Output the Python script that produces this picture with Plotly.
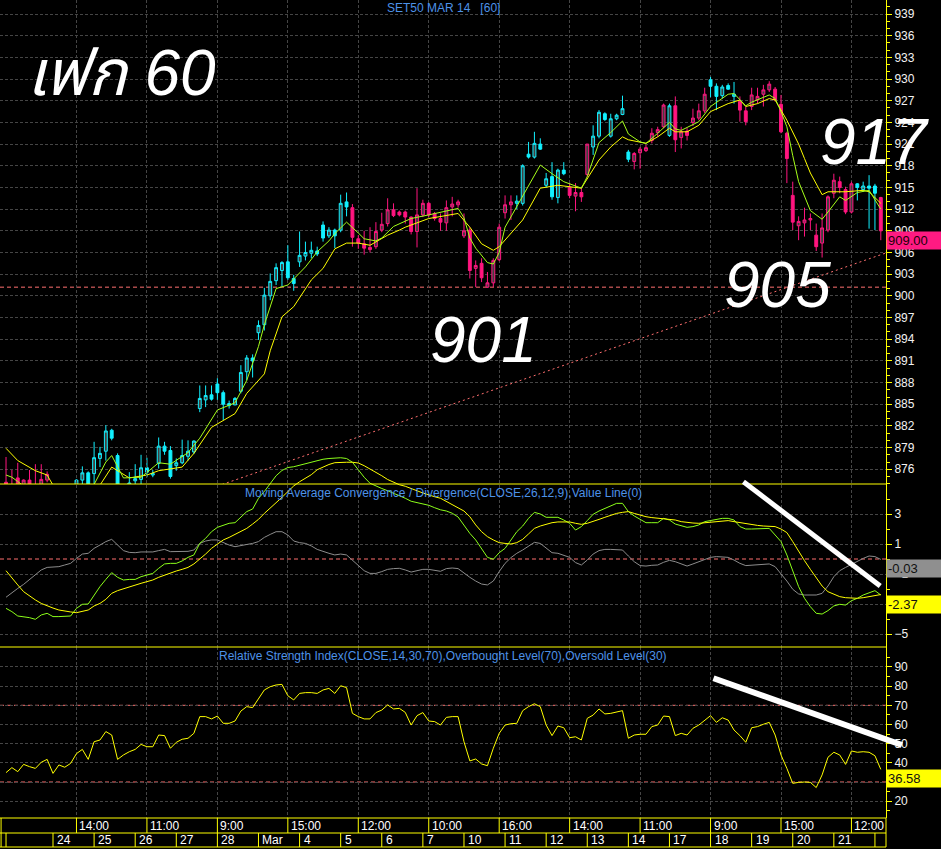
import plotly.graph_objects as go

# ---------------- data ----------------
# hourly bars (sessions 9,10,11,12,14,15,16 -> 7 bars per day), index 0..149
bar_open = [874.2, 873.6, 874.8, 873.5, 874.5, 873.8, 873.5, 874.5, 873.3, 872.6,
            872.2, 872.8, 873.5, 874.5, 875.5, 875.4, 877.5, 878.5, 881.4, 877.9,
            873.6, 873.6, 874.4, 874.6, 876.2, 875.2, 876.8, 879.2, 878.6, 876.5,
            876.9, 877.8, 878.4, 884.4, 885.6, 886.3, 887.8, 886.6, 884.8, 884.9,
            886.8, 889.5, 891.4, 894.9, 896.0, 900.0, 902.1, 903.5, 904.7, 902.4,
            904.7, 905.5, 905.9, 906.2, 909.8, 908.3, 909.1, 909.1, 913.0, 912.2,
            907.9, 907.2, 906.4, 906.8, 909.1, 910.0, 911.9, 911.6, 911.6, 910.9,
            908.9, 911.2, 912.8, 911.4, 910.7, 910.1, 912.3, 912.6, 908.3, 909.1,
            903.8, 904.5, 901.2, 901.8, 905.0, 911.5, 912.6, 912.8, 912.8, 919.6,
            919.2, 921.0, 915.3, 916.5, 913.6, 917.4, 915.0, 913.8, 914.3, 916.8,
            920.6, 922.1, 925.2, 922.1, 924.5, 925.1, 919.9, 918.6, 919.8, 920.1,
            921.5, 922.6, 923.4, 922.2, 926.3, 921.9, 922.8, 924.0, 924.6, 925.6,
            929.9, 929.0, 927.7, 929.1, 927.6, 926.9, 925.6, 926.2, 927.1, 927.9,
            928.5, 928.6, 926.5, 922.5, 913.9, 909.7, 910.1, 910.5, 908.4, 907.3,
            909.1, 914.2, 915.8, 914.7, 911.6, 915.5, 914.7, 915.2, 915.2, 913.6]
bar_high = [877.7, 875.9, 876.9, 874.6, 875.9, 876.7, 876.7, 875.7, 873.6, 873.2,
            873.4, 873.5, 874.6, 876.4, 875.7, 879.8, 879.1, 882.1, 881.6, 878.2,
            873.8, 875.6, 876.7, 878.0, 877.6, 875.9, 880.4, 879.8, 879.2, 877.5,
            880.1, 880.0, 880.0, 887.6, 887.6, 887.6, 888.6, 886.9, 885.5, 886.0,
            890.4, 891.8, 891.9, 896.6, 901.1, 903.1, 904.5, 904.8, 907.0, 902.9,
            908.9, 907.5, 907.5, 906.8, 910.3, 909.5, 909.3, 914.0, 914.3, 912.7,
            908.4, 909.0, 909.5, 910.2, 911.5, 913.5, 912.8, 911.8, 911.8, 911.0,
            914.9, 913.3, 913.0, 911.6, 911.4, 913.2, 913.7, 913.3, 911.4, 909.5,
            904.9, 905.2, 903.3, 905.2, 910.0, 913.9, 913.9, 913.9, 918.2, 921.3,
            922.7, 921.8, 917.0, 918.5, 917.6, 918.5, 915.6, 915.6, 915.1, 921.0,
            923.6, 925.7, 925.4, 925.2, 925.2, 927.7, 920.2, 919.9, 920.6, 920.9,
            923.2, 923.4, 926.6, 926.6, 927.6, 923.4, 923.2, 925.9, 926.6, 928.8,
            930.3, 929.4, 929.2, 929.4, 929.6, 927.6, 926.2, 928.8, 928.8, 929.2,
            929.7, 928.9, 927.8, 922.7, 915.8, 911.0, 912.2, 911.4, 910.0, 911.4,
            913.9, 916.9, 916.5, 915.1, 915.8, 915.6, 915.8, 916.7, 915.5, 913.7]
bar_low = [872.8, 872.5, 872.8, 873.0, 873.0, 872.8, 873.0, 874.2, 872.0, 871.8,
           871.9, 872.0, 873.0, 873.0, 873.2, 873.5, 876.3, 877.2, 880.0, 872.8,
           872.5, 873.2, 873.5, 873.6, 874.9, 874.9, 876.1, 878.0, 874.7, 875.8,
           876.7, 877.2, 878.1, 883.9, 884.6, 885.5, 885.6, 882.8, 884.4, 884.9,
           886.5, 888.3, 888.7, 893.9, 895.2, 899.4, 901.5, 901.3, 902.2, 900.7,
           904.0, 904.9, 905.2, 905.5, 907.5, 908.0, 906.6, 908.8, 911.0, 906.8,
           906.5, 905.7, 906.0, 906.5, 908.8, 909.6, 910.9, 911.0, 910.0, 908.5,
           906.7, 910.9, 910.9, 910.4, 909.0, 909.0, 911.0, 912.2, 908.0, 902.4,
           901.2, 901.9, 901.1, 901.2, 904.8, 910.7, 910.5, 912.0, 912.5, 919.0,
           919.0, 920.2, 915.0, 913.3, 912.8, 916.7, 913.5, 911.7, 913.0, 916.5,
           919.5, 921.8, 924.2, 921.9, 924.3, 925.0, 918.5, 917.5, 917.6, 919.9,
           921.1, 922.0, 923.2, 922.0, 919.9, 920.4, 921.5, 923.5, 924.3, 925.3,
           927.5, 925.7, 927.3, 928.5, 926.6, 924.1, 923.6, 925.7, 926.6, 926.2,
           928.2, 926.9, 922.5, 915.6, 909.1, 907.7, 908.2, 909.1, 906.2, 905.3,
           908.8, 913.5, 914.2, 911.3, 911.4, 913.2, 914.4, 909.3, 909.1, 907.7]
bar_close = [873.4, 873.0, 873.5, 874.5, 873.6, 873.3, 874.6, 875.3, 872.6, 872.2,
             872.8, 872.4, 874.5, 875.5, 873.5, 877.6, 878.2, 881.3, 880.3, 873.2,
             873.2, 874.1, 874.7, 876.2, 875.6, 875.4, 879.2, 878.5, 875.0, 876.9,
             877.9, 878.5, 879.9, 885.8, 886.2, 885.7, 886.6, 885.0, 885.1, 885.8,
             889.4, 891.4, 891.0, 895.9, 900.1, 902.0, 903.9, 904.6, 902.5, 901.7,
             905.6, 906.0, 906.3, 905.8, 908.0, 909.1, 908.3, 912.8, 912.3, 908.1,
             907.3, 906.6, 906.7, 908.9, 909.9, 911.9, 911.1, 911.2, 910.9, 908.9,
             911.2, 912.8, 911.2, 910.7, 910.2, 912.2, 912.7, 913.0, 909.0, 903.5,
             904.2, 902.5, 901.8, 904.9, 909.5, 912.6, 913.0, 913.1, 918.0, 919.2,
             921.1, 920.3, 916.2, 913.7, 917.4, 916.9, 913.9, 914.3, 913.7, 921.0,
             922.1, 925.4, 924.4, 924.5, 925.0, 925.9, 918.9, 919.7, 920.3, 920.5,
             922.5, 923.0, 926.4, 926.3, 921.6, 922.7, 922.2, 924.6, 925.6, 927.9,
             929.0, 927.6, 928.9, 928.6, 927.9, 925.7, 924.1, 927.8, 927.6, 928.5,
             929.3, 927.1, 922.7, 919.0, 910.2, 910.3, 910.5, 910.7, 906.8, 909.4,
             913.7, 916.0, 915.0, 911.6, 915.5, 915.0, 915.2, 914.9, 914.2, 909.0]
# c = cyan bar, p = pink bar
bar_colour = list("p" * 12 + "c" * 47 + "p" * 28 + "c" * 9 + "p" * 4 + "c" * 7 +
                  "p" * 6 + "c" + "p" * 6 + "c" * 5 + "p" * 20 + "c" * 4 + "p")

# moving averages (read at selected bars)
ma_fast_x = [0, 1, 2, 3, 5, 9, 13, 15, 17, 18, 20, 23, 26, 28, 31, 33, 36, 39, 41, 43,
             44, 46, 48, 51, 53, 55, 56, 58, 60, 61, 63, 64, 66, 68, 69, 72, 77, 78, 79, 80,
             82, 83, 84, 85, 88, 91, 93, 95, 98, 99, 101, 103, 105, 106, 108, 109, 111, 113, 114, 115,
             118, 120, 123, 124, 126, 127, 130, 131, 132, 133, 134, 135, 137, 139, 140, 142,
             143, 145, 147, 149]
ma_fast_y = [875.2, 874.9, 874.3, 873.7, 873.2, 872.5, 872.8, 873.9, 877.0, 877.9,
             874.8, 874.9, 876.9, 876.7, 878.3, 880.3, 884.2, 885.2, 888.3, 893.0,
             896.0, 901.0, 901.5, 904.0, 906.1, 907.6, 908.6, 910.2, 908.7, 907.9,
             907.6, 908.0, 909.6, 910.3, 910.7, 911.2, 912.1, 910.8, 908.0, 906.6,
             904.6, 904.4, 906.0, 909.5, 913.8, 918.1, 916.9, 915.8, 914.9, 916.5,
             921.2, 922.6, 924.2, 922.4, 921.3, 921.1, 922.5, 924.0, 923.1, 922.9,
             924.1, 926.2, 927.9, 928.0, 926.3, 926.8, 927.8, 927.3, 925.5, 923.4,
             919.4, 915.8, 911.8, 910.6, 911.6, 913.7, 913.2, 914.3, 914.6, 912.0]
ma_slow_x = [0, 2, 5, 7, 8, 10, 14, 16, 18, 21, 24, 26, 30, 32, 35, 39, 41, 44, 45, 47,
             49, 52, 54, 55, 56, 58, 60, 62, 63, 65, 67, 68, 70, 72, 77, 79, 81, 83, 84, 88,
             91, 94, 98, 101, 103, 105, 106, 109, 111, 113, 114, 116, 118, 120, 123, 125, 126, 128, 130, 131,
             133, 135, 136, 137, 139, 140, 143, 146, 147, 149]
ma_slow_y = [878.9, 877.2, 875.8, 875.2, 873.8, 872.8, 872.5, 873.8, 876.3, 874.8,
             875.2, 875.8, 876.3, 878.2, 881.8, 883.7, 886.5, 889.2, 892.4, 897.1,
             898.5, 902.2, 903.8, 905.2, 906.5, 907.3, 907.3, 907.0, 907.5, 908.4,
             909.1, 909.5, 910.1, 910.7, 911.4, 909.5, 907.2, 906.3, 906.8, 910.5,
             914.9, 915.3, 914.9, 918.8, 920.6, 922.0, 921.6, 921.1, 922.0, 923.2,
             922.7, 922.7, 923.6, 925.5, 926.6, 927.1, 926.2, 926.6, 927.3, 927.1,
             924.3, 921.0, 919.0, 917.0, 914.0, 914.4, 914.4, 914.6, 914.4, 912.8]

support_level = 901.2
trend_points = [(36, 873.66), (150, 905.97)]

macd_line = [-3.29, -3.51, -3.80, -3.84, -3.91, -4.02, -3.73, -3.62, -3.84, -3.84,
             -3.84, -3.80, -3.29, -3.02, -3.00, -2.40, -1.84, -1.36, -0.91, -1.22,
             -1.40, -1.36, -1.36, -1.18, -1.07, -0.96, -0.62, -0.33, -0.29, -0.29,
             -0.13, 0.11, 0.27, 1.04, 1.38, 1.82, 2.11, 2.27, 2.38, 2.42,
             2.82, 3.16, 3.33, 4.04, 4.50, 5.00, 5.55, 5.90, 6.10, 6.15,
             6.25, 6.40, 6.50, 6.60, 6.65, 6.70, 6.72, 6.75, 6.70, 6.45,
             5.95, 5.45, 5.05, 4.85, 4.70, 4.55, 4.40, 4.20, 4.05, 3.85,
             3.75, 3.68, 3.58, 3.42, 3.28, 3.20, 3.05, 2.80, 2.25, 1.71,
             1.27, 0.71, 0.11, -0.02, 0.42, 0.71, 1.31, 1.82, 2.20, 2.71,
             3.11, 3.00, 2.78, 2.78, 2.78, 2.60, 2.38, 1.93, 2.16, 2.56,
             2.98, 3.20, 3.38, 3.53, 3.71, 3.71, 3.16, 2.87, 2.64, 2.42,
             2.42, 2.42, 2.71, 2.60, 2.33, 2.20, 2.11, 2.16, 2.27, 2.49,
             2.56, 2.64, 2.71, 2.71, 2.60, 2.16, 2.00, 2.00, 2.00, 2.02,
             2.04, 1.60, 1.16, 0.27, -0.84, -1.84, -2.62, -3.18, -3.62, -3.67,
             -3.44, -3.13, -3.02, -3.07, -2.78, -2.62, -2.40, -2.24, -2.11, -2.40]
macd_signal = [-0.78, -1.29, -1.73, -2.18, -2.47, -2.73, -2.96, -3.13, -3.27, -3.40,
               -3.49, -3.53, -3.58, -3.51, -3.40, -3.13, -2.96, -2.69, -2.29, -2.11,
               -1.98, -1.84, -1.73, -1.62, -1.51, -1.40, -1.22, -1.07, -0.96, -0.80,
               -0.69, -0.56, -0.33, -0.02, 0.33, 0.71, 1.00, 1.27, 1.44, 1.64,
               1.82, 2.04, 2.33, 2.64, 3.04, 3.38, 3.76, 4.11, 4.49, 4.87,
               5.15, 5.38, 5.62, 5.95, 6.15, 6.30, 6.42, 6.45, 6.45, 6.45,
               6.40, 6.22, 6.00, 5.80, 5.55, 5.30, 5.10, 4.95, 4.85, 4.72,
               4.55, 4.40, 4.25, 4.15, 4.05, 3.85, 3.65, 3.45, 3.20, 2.82,
               2.27, 1.82, 1.49, 1.27, 1.09, 1.04, 1.00, 1.09, 1.31, 1.67,
               2.04, 2.20, 2.33, 2.42, 2.47, 2.49, 2.47, 2.38, 2.31, 2.38,
               2.49, 2.64, 2.78, 2.93, 3.04, 3.11, 3.16, 3.04, 2.91, 2.82,
               2.76, 2.71, 2.69, 2.64, 2.60, 2.49, 2.42, 2.40, 2.38, 2.42,
               2.49, 2.53, 2.56, 2.56, 2.49, 2.42, 2.33, 2.29, 2.24, 2.20,
               2.16, 2.16, 2.00, 1.76, 1.16, 0.49, -0.11, -0.69, -1.29, -1.80,
               -2.18, -2.33, -2.51, -2.58, -2.62, -2.62, -2.58, -2.51, -2.44, -2.37]
macd_value = [-2.55, -2.24, -1.96, -1.69, -1.36, -1.07, -0.73, -0.56, -0.51, -0.51,
              -0.40, -0.29, 0.04, 0.33, 0.38, 0.71, 0.93, 1.16, 1.31, 0.93,
              0.56, 0.44, 0.42, 0.47, 0.49, 0.47, 0.56, 0.64, 0.49, 0.49,
              0.49, 0.51, 0.60, 1.04, 1.20, 1.27, 1.27, 1.09, 0.93, 0.82,
              0.89, 0.98, 1.04, 1.16, 1.44, 1.64, 1.82, 1.82, 1.60, 1.20,
              1.09, 1.04, 0.87, 0.64, 0.49, 0.38, 0.27, 0.33, 0.27, -0.07,
              -0.47, -0.78, -0.96, -0.96, -0.84, -0.69, -0.64, -0.62, -0.73, -0.87,
              -0.78, -0.69, -0.69, -0.78, -0.82, -0.64, -0.60, -0.64, -0.96, -1.22,
              -1.47, -1.67, -1.73, -1.47, -0.84, -0.29, 0.09, 0.38, 0.60, 0.87,
              1.11, 1.04, 0.71, 0.42, 0.38, 0.27, 0.11, -0.24, -0.40, -0.07,
              0.33, 0.56, 0.64, 0.64, 0.64, 0.60, 0.20, -0.18, -0.44, -0.47,
              -0.42, -0.40, -0.22, -0.09, -0.18, -0.33, -0.47, -0.33, -0.18, -0.02,
              0.11, 0.16, 0.16, 0.11, -0.07, -0.29, -0.44, -0.40, -0.38, -0.33,
              -0.33, -0.51, -0.96, -1.47, -2.02, -2.33, -2.40, -2.40, -2.40, -2.29,
              -1.80, -1.18, -0.78, -0.56, -0.36, -0.13, 0.04, 0.20, 0.16, -0.03]
rsi = [34.9, 37.5, 35.4, 39.2, 38.0, 37.1, 40.3, 41.8, 34.5, 38.9,
       37.7, 39.7, 44.8, 47.0, 41.8, 51.0, 51.9, 56.3, 54.5, 41.8,
       44.1, 45.8, 47.0, 49.6, 48.4, 48.4, 54.5, 54.2, 47.6, 50.7,
       52.3, 52.8, 55.4, 64.1, 64.1, 62.9, 64.4, 60.6, 60.6, 61.8,
       67.0, 69.3, 68.8, 73.6, 78.0, 79.7, 80.6, 80.9, 75.0, 72.8,
       76.2, 76.6, 76.6, 76.2, 78.0, 78.8, 76.2, 80.2, 79.2, 65.8,
       64.1, 62.9, 62.9, 66.2, 67.5, 70.2, 68.1, 68.4, 66.3, 59.7,
       64.6, 66.2, 61.8, 61.5, 59.7, 63.7, 64.1, 64.1, 51.0, 41.0,
       42.0, 39.4, 38.5, 47.6, 55.4, 59.7, 60.4, 60.6, 67.2, 69.3,
       70.8, 69.3, 59.7, 54.2, 59.2, 58.3, 53.1, 53.6, 51.9, 63.2,
       64.9, 68.1, 65.5, 65.8, 66.7, 67.2, 52.8, 54.5, 54.9, 54.9,
       58.9, 59.7, 64.4, 64.1, 54.2, 55.4, 54.5, 58.0, 59.7, 62.3,
       64.6, 61.1, 63.5, 62.3, 57.1, 54.2, 50.7, 58.3, 58.9, 60.1,
       61.1, 54.5, 44.1, 37.1, 29.3, 29.8, 30.0, 29.8, 27.1, 33.7,
       42.9, 45.5, 44.1, 39.2, 46.2, 45.5, 45.8, 45.5, 43.7, 36.58]

time_labels = ["14:00", "11:00", "9:00", "15:00", "12:00", "10:00",
               "16:00", "14:00", "11:00", "9:00", "15:00", "12:00"]
date_labels = ["24", "25", "26", "27", "28", "Mar", "4", "5", "6", "7",
               "10", "11", "12", "13", "14", "17", "18", "19", "20", "21"]
BARS_PER_DAY = 7
FIRST_DAY_BAR = 8
FIRST_TIME_BAR = 12
TIME_STEP = 12

# hand-drawn divergence strokes (bar index, indicator value)
macd_stroke = [(125.6, 5.15), (148.9, -1.8)]
rsi_stroke = [(120.5, 84.1), (152.6, 49.3)]

n = len(bar_close)
assert all(len(a) == n for a in (bar_open, bar_high, bar_low, bar_colour,
                                 macd_line, macd_signal, macd_value, rsi))

# ---------------- styling ----------------
FONT = "Liberation Sans, Arial, Noto Sans, sans-serif"
YEL = "#ffff00"
GRID = "#454545"
CYAN = "#12f0ff"
PINK = "#ff157f"
HOLLOW = "#404040"
RED = "#ff6f6f"
TITLE = "#4d92e8"

# pixel geometry of the reference
PLOT_W, PLOT_H = 886, 818
BAR0_PX, BAR_PX = 6.03, 5.871
x_lo = -BAR0_PX / BAR_PX
x_hi = (PLOT_W - BAR0_PX) / BAR_PX
P_BOT = (PLOT_H - 484) / PLOT_H
M_BOT = (PLOT_H - 647) / PLOT_H
M_TOP = (PLOT_H - 440) / PLOT_H


def paper_x(i):
    return (i - x_lo) / (x_hi - x_lo)


def paper_y(px):
    return (PLOT_H - px) / PLOT_H


fig = go.Figure()

for code, col in (("c", CYAN), ("p", PINK)):
    xs = [i for i in range(n) if bar_colour[i] == code]
    fig.add_trace(go.Candlestick(
        x=xs,
        open=[bar_open[i] for i in xs], high=[bar_high[i] for i in xs],
        low=[bar_low[i] for i in xs], close=[bar_close[i] for i in xs],
        increasing=dict(line=dict(color=col, width=1), fillcolor=HOLLOW),
        decreasing=dict(line=dict(color=col, width=1), fillcolor=col),
        whiskerwidth=0, xaxis="x", yaxis="y", hoverinfo="skip", showlegend=False))

fig.add_trace(go.Scatter(x=ma_slow_x, y=ma_slow_y, mode="lines",
                         line=dict(color=YEL, width=1), yaxis="y", showlegend=False))
fig.add_trace(go.Scatter(x=ma_fast_x, y=ma_fast_y, mode="lines",
                         line=dict(color="#a6ff1a", width=1), yaxis="y", showlegend=False))

idx = list(range(n))
fig.add_trace(go.Scatter(x=idx, y=macd_value, mode="lines",
                         line=dict(color="#8c8c8c", width=1), yaxis="y2", showlegend=False))
fig.add_trace(go.Scatter(x=idx, y=macd_line, mode="lines",
                         line=dict(color="#8cff1a", width=1), yaxis="y2", showlegend=False))
fig.add_trace(go.Scatter(x=idx, y=macd_signal, mode="lines",
                         line=dict(color=YEL, width=1), yaxis="y2", showlegend=False))
fig.add_trace(go.Scatter(x=idx, y=rsi, mode="lines",
                         line=dict(color=YEL, width=1), yaxis="y3", showlegend=False))

time_pos = [FIRST_TIME_BAR + TIME_STEP * k for k in range(len(time_labels))]
day_pos = [FIRST_DAY_BAR + BARS_PER_DAY * k for k in range(len(date_labels))]
day_sep = [0] + day_pos + [day_pos[-1] + BARS_PER_DAY]

shapes = []
# reference lines
shapes.append(dict(type="line", xref="paper", yref="y", x0=0, x1=1, y0=support_level,
                   y1=support_level, line=dict(color=RED, width=1, dash="4px,3px"), layer="between"))
shapes.append(dict(type="line", xref="x", yref="y", x0=trend_points[0][0], y0=trend_points[0][1],
                   x1=trend_points[1][0], y1=trend_points[1][1],
                   line=dict(color=RED, width=1, dash="2px,3px"), layer="between"))
shapes.append(dict(type="line", xref="paper", yref="y2", x0=0, x1=1, y0=0, y1=0,
                   line=dict(color=RED, width=1, dash="4px,3px"), layer="between"))
for lvl in (70, 30):
    shapes.append(dict(type="line", xref="paper", yref="y3", x0=0, x1=1, y0=lvl, y1=lvl,
                       line=dict(color=RED, width=1, dash="4px,3px"), layer="between"))
# panel borders
for yy in (P_BOT, M_BOT, 0):
    shapes.append(dict(type="line", xref="paper", yref="paper", x0=0, x1=1, y0=yy, y1=yy,
                       line=dict(color=YEL, width=1)))
# date axis rows
row1_bot = paper_y(833)
row2_bot = paper_y(847)
for yy in (row1_bot, row2_bot):
    shapes.append(dict(type="line", xref="paper", yref="paper", x0=0, x1=1, y0=yy, y1=yy,
                       line=dict(color=YEL, width=1)))
shapes.append(dict(type="line", xref="paper", yref="paper", x0=1, x1=1, y0=0, y1=row2_bot,
                   line=dict(color=YEL, width=1)))
shapes.append(dict(type="line", xref="paper", yref="paper", x0=0.0012, x1=0.0012, y0=0, y1=row2_bot,
                   line=dict(color=YEL, width=1)))
for p in time_pos:
    shapes.append(dict(type="line", xref="x", yref="paper", x0=p, x1=p, y0=0, y1=row1_bot,
                       line=dict(color=YEL, width=1)))
for p in day_sep:
    shapes.append(dict(type="line", xref="x", yref="paper", x0=p, x1=p, y0=row1_bot, y1=row2_bot,
                       line=dict(color=YEL, width=1)))
# white strokes
shapes.append(dict(type="line", xref="x", yref="y2", x0=macd_stroke[0][0], y0=macd_stroke[0][1],
                   x1=macd_stroke[1][0], y1=macd_stroke[1][1], line=dict(color="white", width=5)))
shapes.append(dict(type="line", xref="paper", yref="y3", x0=paper_x(rsi_stroke[0][0]), y0=rsi_stroke[0][1],
                   x1=paper_x(rsi_stroke[1][0]), y1=rsi_stroke[1][1], line=dict(color="white", width=6)))

ann = []
ann.append(dict(text="SET50 MAR 14\u00a0\u00a0\u00a0[60]", xref="paper", yref="paper", x=0.5, y=paper_y(8),
                yanchor="middle", showarrow=False, font=dict(color=TITLE, size=12, family=FONT)))
ann.append(dict(text="Moving Average Convergence / Divergence(CLOSE,26,12,9),Value Line(0)",
                xref="paper", yref="paper", x=0.5, y=paper_y(493), yanchor="middle", showarrow=False,
                font=dict(color=TITLE, size=12, family=FONT)))
ann.append(dict(text="Relative Strength Index(CLOSE,14,30,70),Overbought Level(70),Oversold Level(30)",
                xref="paper", yref="paper", x=0.5, y=paper_y(656), yanchor="middle", showarrow=False,
                font=dict(color=TITLE, size=12, family=FONT)))
for p, lab in zip(time_pos, time_labels):
    ann.append(dict(text=lab, xref="x", yref="paper", x=p, y=paper_y(825.5), xanchor="left",
                    yanchor="middle", xshift=2, showarrow=False, borderpad=0,
                    font=dict(color="white", size=12, family=FONT)))
for p, lab in zip(day_pos, date_labels):
    ann.append(dict(text=lab, xref="x", yref="paper", x=p, y=paper_y(840.5), xanchor="left",
                    yanchor="middle", xshift=3, showarrow=False, borderpad=0,
                    font=dict(color="white", size=12, family=FONT)))

# last-value boxes
last_boxes = [("y", bar_close[-1], "#ff1a82", "#1a0008"),
              ("y2", macd_value[-1], "#8f8f8f", "#111111"),
              ("y2", macd_signal[-1], YEL, "#111111"),
              ("y3", rsi[-1], YEL, "#111111")]
for ref, val, bg, fg in last_boxes:
    ann.append(dict(text=f"{val:.2f}", xref="paper", yref=ref, x=1, y=val, xanchor="left",
                    yanchor="top", showarrow=False, bgcolor=bg, width=53, height=15, align="left",
                    borderpad=1, font=dict(color=fg, size=13, family=FONT)))

# big hand-written style labels (bar index, price)
big_labels = [("เฟก 60", 3.3, 930.9, "left"), ("901", 81.3, 893.9, "center"),
              ("905", 131.4, 901.5, "center"), ("917", 148.0, 921.3, "center")]
for txt, bx, by, anc in big_labels:
    ann.append(dict(text=f"<i>{txt}</i>", xref="x", yref="y", x=bx, y=by, xanchor=anc,
                    yanchor="middle", showarrow=False,
                    font=dict(color="white", size=64,
                              family="Liberation Sans, Arial, Noto Sans Thai, sans-serif")))

axis_common = dict(side="right", anchor="x", ticks="outside", tickcolor=YEL, tickwidth=1, ticklen=5,
                   showline=True, linecolor=YEL, linewidth=1, showgrid=True, gridcolor=GRID,
                   griddash="3px,2px", gridwidth=1, zeroline=False, fixedrange=True,
                   tickfont=dict(color="#f2f2f2", size=12, family=FONT))

price_ticks = list(range(876, 940, 3))
fig.update_layout(
    width=941, height=849,
    margin=dict(l=0, r=941 - PLOT_W, t=0, b=849 - PLOT_H),
    paper_bgcolor="black", plot_bgcolor="rgba(0,0,0,0)",
    showlegend=False, hovermode=False,
    xaxis=dict(domain=[0, 1], range=[x_lo, x_hi], anchor="y3", showticklabels=False, ticks="",
               tickmode="array", tickvals=time_pos, showgrid=True, gridcolor=GRID,
               griddash="3px,2px", gridwidth=1, zeroline=False, showline=False,
               rangeslider=dict(visible=False), fixedrange=True),
    yaxis=dict(domain=[P_BOT, 1], range=[873.96, 940.94], tickmode="array", tickvals=price_ticks,
               minor=dict(tickmode="array", tickvals=[v for v in range(874, 941) if v not in price_ticks],
                          ticklen=3, tickcolor=YEL, showgrid=False),
               **axis_common),
    yaxis2=dict(domain=[M_BOT, M_TOP], range=[-5.867, 7.933], tickmode="array", tickvals=[3, 1, -1, -3, -5],
                minor=dict(tickmode="array", tickvals=[4, 2, 0, -2, -4], ticklen=3, tickcolor=YEL,
                           showgrid=False),
                **axis_common),
    yaxis3=dict(domain=[0, M_BOT], range=[11.23, 100.4], tickmode="array", tickvals=list(range(20, 100, 10)),
                minor=dict(tickmode="array", tickvals=list(range(15, 100, 10)), ticklen=3, tickcolor=YEL,
                           showgrid=False),
                **axis_common),
    shapes=shapes, annotations=ann,
)

fig.write_html("out.html", config={"displayModeBar": False, "staticPlot": True},
               post_script="document.body.style.margin='0px';document.body.style.overflow='hidden';")
